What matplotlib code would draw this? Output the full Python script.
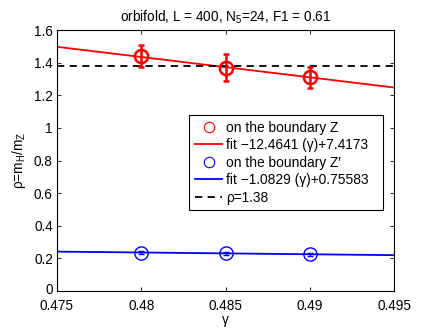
import matplotlib
matplotlib.use("Agg")
import matplotlib.pyplot as plt
import matplotlib.transforms as mtransforms
import numpy as np

plt.rcParams['font.family'] = ['Liberation Sans', 'DejaVu Sans']
plt.rcParams['mathtext.fontset'] = 'custom'
plt.rcParams['mathtext.rm'] = 'Liberation Sans'
plt.rcParams['mathtext.it'] = 'Liberation Sans'

gamma = [0.48, 0.485, 0.49]
rho_Z = [1.44, 1.37, 1.31]
err_Z = [0.065, 0.08, 0.065]
rho_Zp = [0.235, 0.23, 0.225]
err_Zp = [0.008, 0.008, 0.008]
fit_Z = (-12.4641, 7.4173)
fit_Zp = (-1.0829, 0.75583)
rho_ref = 1.38
xlim = (0.475, 0.495)
ylim = (0, 1.6)
xticks = [0.475, 0.48, 0.485, 0.49, 0.495]
yticks = [0, 0.2, 0.4, 0.6, 0.8, 1, 1.2, 1.4, 1.6]

fig = plt.figure(figsize=(4.36, 3.28), dpi=100)
ax = fig.add_axes([57/436, 37/328, 337/436, 261/328])

xx = np.array(xlim)
ax.errorbar(gamma, rho_Z, yerr=err_Z, fmt='o', mfc='none', mec='red', ecolor='red',
            ms=9.5, mew=1.8, elinewidth=1.8, capsize=2, capthick=1.5, zorder=3)
ax.errorbar(gamma, rho_Zp, yerr=err_Zp, fmt='o', mfc='none', mec='blue', ecolor='blue',
            ms=9.5, mew=1.0, elinewidth=1.0, capsize=2, zorder=3)
hZ, = ax.plot([], [], 'o', mfc='none', mec='red', ms=7.5, mew=0.8)
hZp, = ax.plot([], [], 'o', mfc='none', mec='blue', ms=7.5, mew=0.8)
hfZ, = ax.plot(xx, fit_Z[0]*xx + fit_Z[1], color='red', lw=1.3)
hfZp, = ax.plot(xx, fit_Zp[0]*xx + fit_Zp[1], color='blue', lw=1.3)
href = ax.axhline(rho_ref, color='black', ls='--', lw=1.3, dashes=(4, 3))

leg = ax.legend([hZ, hfZ, hZp, hfZp, href],
                ['on the boundary Z', 'fit \u221212.4641 (\u03b3)+7.4173',
                 'on the boundary Z\u2032', 'fit \u22121.0829 (\u03b3)+0.75583',
                 '\u03c1=1.38'],
                loc='upper left', bbox_to_anchor=(132/337, 0, 194/337, 176/261),
                mode='expand', fontsize=9.9,
                frameon=True, fancybox=False, edgecolor='black', framealpha=1,
                borderpad=0.42, labelspacing=0.25, handlelength=2.0, handletextpad=0.25,
                borderaxespad=0)
leg.get_frame().set_linewidth(0.8)

ax.set_xlim(*xlim)
ax.set_ylim(*ylim)
ax.set_xticks(xticks)
ax.set_xticklabels(['0.475', '0.48', '0.485', '0.49', '0.495'])
ax.set_yticks(yticks)
ax.set_yticklabels(['0', '0.2', '0.4', '0.6', '0.8', '1', '1.2', '1.4', '1.6'])
ax.tick_params(direction='in', top=True, right=True, labelsize=9.8, length=3, width=0.6)
ax.tick_params(axis='x', pad=6)
ax.tick_params(axis='y', pad=3)
for s in ax.spines.values():
    s.set_linewidth(0.8)
# nudge the "0" y tick label up slightly so it does not collide with "0.475"
lbl0 = ax.get_yticklabels()[0]
lbl0.set_transform(lbl0.get_transform() + mtransforms.ScaledTranslation(0, 2/100, fig.dpi_scale_trans))
ax.set_xlabel('\u03b3', fontsize=9.8, labelpad=0)
ax.set_ylabel(r'$\rho$=m$_\mathrm{H}$/m$_\mathrm{Z}$', fontsize=9.8, labelpad=4)
ax.set_title(r'orbifold, L = 400, N$_5$=24, F1 = 0.61', fontsize=9.8, pad=6)

fig.savefig('out.png', dpi=100)
